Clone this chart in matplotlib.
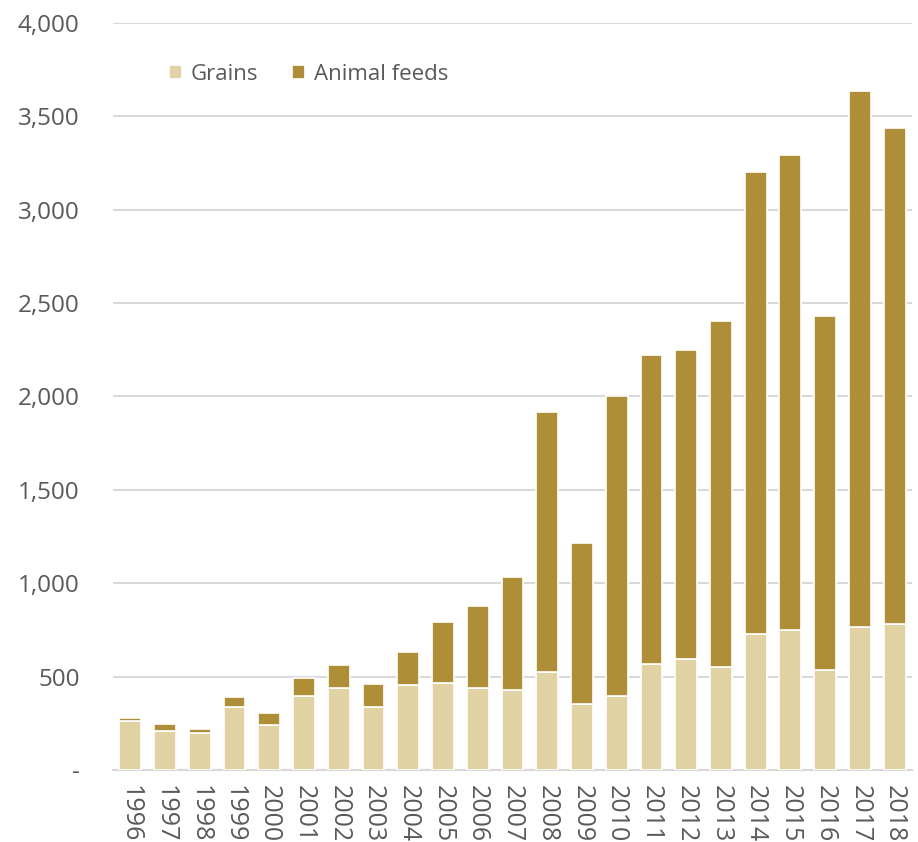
import matplotlib
matplotlib.use("Agg")
import matplotlib.pyplot as plt
from matplotlib.ticker import FuncFormatter

years = [str(y) for y in range(1996, 2019)]
grains = [262, 210, 197, 339, 241, 396, 439, 339, 454, 468, 439, 427,
          523, 352, 394, 566, 595, 553, 727, 752, 538, 767, 782]
animal_feeds = [16, 36, 23, 52, 64, 95, 124, 123, 180, 323, 438, 607,
                1396, 866, 1610, 1654, 1653, 1852, 2476, 2541, 1894, 2869, 2656]

grain_color = "#E1D2A4"
feed_color = "#AE8F38"
text_color = "#595959"
grid_color = "#D9D9D9"

plt.rcParams["font.family"] = ["Open Sans", "DejaVu Sans"]

fig = plt.figure(figsize=(9.18, 8.42), dpi=100)
ax = fig.add_axes([0.123, 0.0855, 0.8705, 0.8872])

x = range(len(years))
ax.bar(x, grains, width=0.63, color=grain_color, edgecolor="white",
       linewidth=1.2, label="Grains", zorder=3)
ax.bar(x, animal_feeds, width=0.63, bottom=grains, color=feed_color,
       edgecolor="white", linewidth=1.2, label="Animal feeds", zorder=3)

ax.set_xlim(-0.5, len(years) - 0.5)
ax.set_ylim(0, 4000)
ax.set_yticks(range(0, 4001, 500))
ax.yaxis.set_major_formatter(FuncFormatter(lambda v, p: "-" if v == 0 else f"{int(v):,}"))
ax.grid(axis="y", color=grid_color, linewidth=1.5, zorder=0)
ax.set_axisbelow(True)

for side in ["left", "right", "top"]:
    ax.spines[side].set_visible(False)
ax.spines["bottom"].set_color(grid_color)
ax.spines["bottom"].set_linewidth(1.5)

ax.set_xticks(list(x))
ax.set_xticklabels(years, rotation=270, fontsize=18, color=text_color)
ax.tick_params(axis="x", length=0, pad=11)
ax.tick_params(axis="y", length=0, labelsize=17.5, labelcolor=text_color, pad=24)

leg = ax.legend(loc="upper left", bbox_to_anchor=(0.045, 0.972), ncol=2,
                frameon=False, fontsize=16, handlelength=0.6, handleheight=0.6,
                handletextpad=0.4, columnspacing=1.5)
for t in leg.get_texts():
    t.set_color(text_color)

fig.savefig("out.png", dpi=100)
